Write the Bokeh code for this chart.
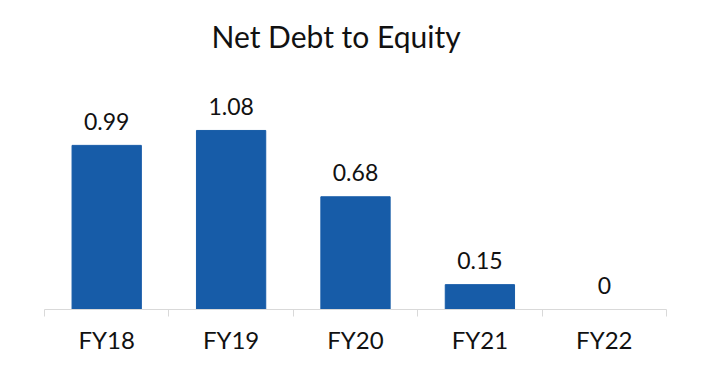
from bokeh.plotting import figure
from bokeh.models import ColumnDataSource, Range1d, LinearAxis, FixedTicker
from bokeh.core.properties import value
from bokeh.embed import file_html
from bokeh.resources import INLINE

categories = ["FY18", "FY19", "FY20", "FY21", "FY22"]
values = [0.99, 1.08, 0.68, 0.15, 0.0]
labels = ["0.99", "1.08", "0.68", "0.15", "0"]

FONT = "Lato"
BAR = "#175CA8"

n = len(categories)
centers = [i + 0.5 for i in range(n)]
src = ColumnDataSource(dict(x=centers, val=values, lab=labels))

p = figure(width=713, height=378, output_backend="svg", toolbar_location=None,
           x_range=Range1d(0, n), y_range=Range1d(0, 1.49),
           x_axis_location=None, y_axis_location=None,
           min_border_left=44, min_border_right=47,
           min_border_top=62, min_border_bottom=69,
           title="Net Debt to Equity")
p.outline_line_color = None
p.xgrid.visible = False
p.ygrid.visible = False
p.background_fill_color = "white"
p.border_fill_color = "white"

p.title.align = "left"
p.title.offset = 167
p.title.standoff = 17
p.title.text_font = FONT
p.title.text_font_style = "normal"
p.title.text_font_size = "30px"
p.title.text_color = "#111111"

p.vbar(x="x", top="val", width=0.557, source=src, color=BAR)
p.text(x="x", y="val", text="lab", source=src, text_align="center",
       text_baseline="alphabetic", y_offset=-24, text_font=value(FONT),
       text_font_size="23px", text_color="#111111")

# boundary ticks axis
bounds = list(range(n + 1))
tick_axis = LinearAxis(ticker=FixedTicker(ticks=bounds),
                       major_label_overrides={b: "" for b in bounds},
                       major_label_text_font_size="1px",
                       major_label_standoff=0,
                       axis_line_color="#d9d9d9", major_tick_line_color="#d9d9d9",
                       major_tick_out=7, major_tick_in=0,
                       minor_tick_out=0, minor_tick_in=0)
p.add_layout(tick_axis, "below")

cat_axis = LinearAxis(ticker=FixedTicker(ticks=centers),
                      major_label_overrides={c: lab for c, lab in zip(centers, categories)},
                      axis_line_color=None, major_tick_line_color=None,
                      major_tick_out=0, major_tick_in=0,
                      minor_tick_out=0, minor_tick_in=0,
                      major_label_standoff=8,
                      major_label_text_font=FONT,
                      major_label_text_font_size="24px",
                      major_label_text_color="#111111")
p.add_layout(cat_axis, "below")

open("out.html", "w").write(file_html(p, INLINE))
